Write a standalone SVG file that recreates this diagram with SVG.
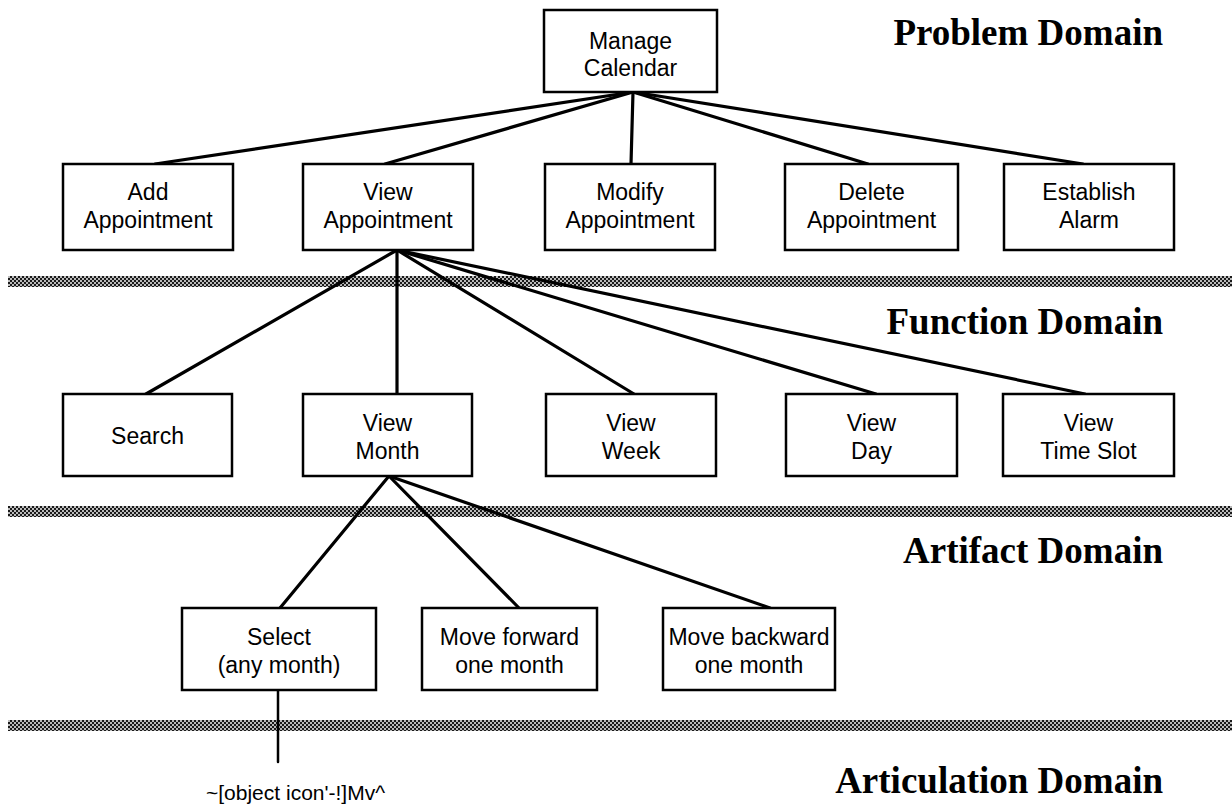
<svg xmlns="http://www.w3.org/2000/svg" width="1232" height="806" viewBox="0 0 1232 806">
  <defs>
    <!-- halftone fill for the domain separator bands -->
    <pattern id="halftone" width="4" height="4" patternUnits="userSpaceOnUse">
      <rect width="4" height="4" fill="#1a1a1a"/>
      <circle cx="1" cy="1" r="0.95" fill="#ffffff"/>
      <circle cx="3" cy="3" r="0.95" fill="#ffffff"/>
    </pattern>
    <style>
      .box { fill: #ffffff; stroke: #000000; stroke-width: 2.5; }
      .lbl { font-family: "Liberation Sans", Arial, Helvetica, sans-serif; font-size: 23px; fill: #000000; text-anchor: middle; }
      .domain { font-family: "Liberation Serif", "Times New Roman", serif; font-weight: bold; font-size: 37px; fill: #000000; text-anchor: end; }
      .edge { stroke: #000000; stroke-width: 3.2; fill: none; stroke-linecap: round; }
      .band { fill: url(#halftone); }
      .note { font-family: "Liberation Sans", Arial, Helvetica, sans-serif; font-size: 21px; fill: #000000; }
    </style>
  </defs>

  <rect width="1232" height="806" fill="#ffffff"/>

  <!-- domain separator bands -->
  <g id="bands">
    <rect class="band" x="8" y="276" width="1224" height="11"/>
    <rect class="band" x="8" y="506" width="1224" height="11"/>
    <rect class="band" x="8" y="720" width="1224" height="11"/>
  </g>

  <!-- domain titles -->
  <g id="domain-labels">
    <text class="domain" x="1163" y="45">Problem Domain</text>
    <text class="domain" x="1163" y="334">Function Domain</text>
    <text class="domain" x="1163" y="563">Artifact Domain</text>
    <text class="domain" x="1163" y="793">Articulation Domain</text>
  </g>

  <!-- connectors -->
  <g id="connectors">
    <line class="edge" x1="633" y1="92" x2="155" y2="164"/>
    <line class="edge" x1="633" y1="92" x2="385" y2="164"/>
    <line class="edge" x1="633" y1="92" x2="631" y2="164"/>
    <line class="edge" x1="633" y1="92" x2="868" y2="164"/>
    <line class="edge" x1="633" y1="92" x2="1083" y2="164"/>

    <line class="edge" x1="397" y1="250" x2="146" y2="394"/>
    <line class="edge" x1="397" y1="250" x2="397" y2="394"/>
    <line class="edge" x1="397" y1="250" x2="634" y2="394"/>
    <line class="edge" x1="397" y1="250" x2="876" y2="394"/>
    <line class="edge" x1="397" y1="250" x2="1085" y2="394"/>

    <line class="edge" x1="389" y1="476" x2="280" y2="608"/>
    <line class="edge" x1="389" y1="476" x2="519" y2="608"/>
    <line class="edge" x1="389" y1="476" x2="770" y2="608"/>

    <line class="edge" x1="278" y1="690" x2="278" y2="762" style="stroke-width:2.5"/>
  </g>

  <!-- problem domain -->
  <g id="manage-calendar">
    <rect class="box" x="544" y="10" width="173" height="82"/>
    <text class="lbl" x="630.5" y="49">Manage</text>
    <text class="lbl" x="630.5" y="76">Calendar</text>
  </g>
  <g id="add-appointment">
    <rect class="box" x="63" y="164" width="170" height="86"/>
    <text class="lbl" x="148" y="200">Add</text>
    <text class="lbl" x="148" y="228">Appointment</text>
  </g>
  <g id="view-appointment">
    <rect class="box" x="303" y="164" width="170" height="86"/>
    <text class="lbl" x="388" y="200">View</text>
    <text class="lbl" x="388" y="228">Appointment</text>
  </g>
  <g id="modify-appointment">
    <rect class="box" x="545" y="164" width="170" height="86"/>
    <text class="lbl" x="630" y="200">Modify</text>
    <text class="lbl" x="630" y="228">Appointment</text>
  </g>
  <g id="delete-appointment">
    <rect class="box" x="785" y="164" width="173" height="86"/>
    <text class="lbl" x="871.5" y="200">Delete</text>
    <text class="lbl" x="871.5" y="228">Appointment</text>
  </g>
  <g id="establish-alarm">
    <rect class="box" x="1004" y="164" width="170" height="86"/>
    <text class="lbl" x="1089" y="200">Establish</text>
    <text class="lbl" x="1089" y="228">Alarm</text>
  </g>

  <!-- function domain -->
  <g id="search">
    <rect class="box" x="63" y="394" width="169" height="82"/>
    <text class="lbl" x="147.5" y="444">Search</text>
  </g>
  <g id="view-month">
    <rect class="box" x="303" y="394" width="169" height="82"/>
    <text class="lbl" x="387.5" y="431">View</text>
    <text class="lbl" x="387.5" y="459">Month</text>
  </g>
  <g id="view-week">
    <rect class="box" x="546" y="394" width="170" height="82"/>
    <text class="lbl" x="631" y="431">View</text>
    <text class="lbl" x="631" y="459">Week</text>
  </g>
  <g id="view-day">
    <rect class="box" x="786" y="394" width="171" height="82"/>
    <text class="lbl" x="871.5" y="431">View</text>
    <text class="lbl" x="871.5" y="459">Day</text>
  </g>
  <g id="view-time-slot">
    <rect class="box" x="1003" y="394" width="171" height="82"/>
    <text class="lbl" x="1088.5" y="431">View</text>
    <text class="lbl" x="1088.5" y="459">Time Slot</text>
  </g>

  <!-- artifact domain -->
  <g id="select-month">
    <rect class="box" x="182" y="608" width="194" height="82"/>
    <text class="lbl" x="279" y="645">Select</text>
    <text class="lbl" x="279" y="673">(any month)</text>
  </g>
  <g id="move-forward">
    <rect class="box" x="422" y="608" width="175" height="82"/>
    <text class="lbl" x="509.5" y="645">Move forward</text>
    <text class="lbl" x="509.5" y="673">one month</text>
  </g>
  <g id="move-backward">
    <rect class="box" x="663" y="608" width="172" height="82"/>
    <text class="lbl" x="749" y="645">Move backward</text>
    <text class="lbl" x="749" y="673">one month</text>
  </g>

  <!-- articulation domain -->
  <g id="object-icon">
    <text class="note" x="206" y="800">~[object icon'-!]Mv^</text>
  </g>
</svg>
